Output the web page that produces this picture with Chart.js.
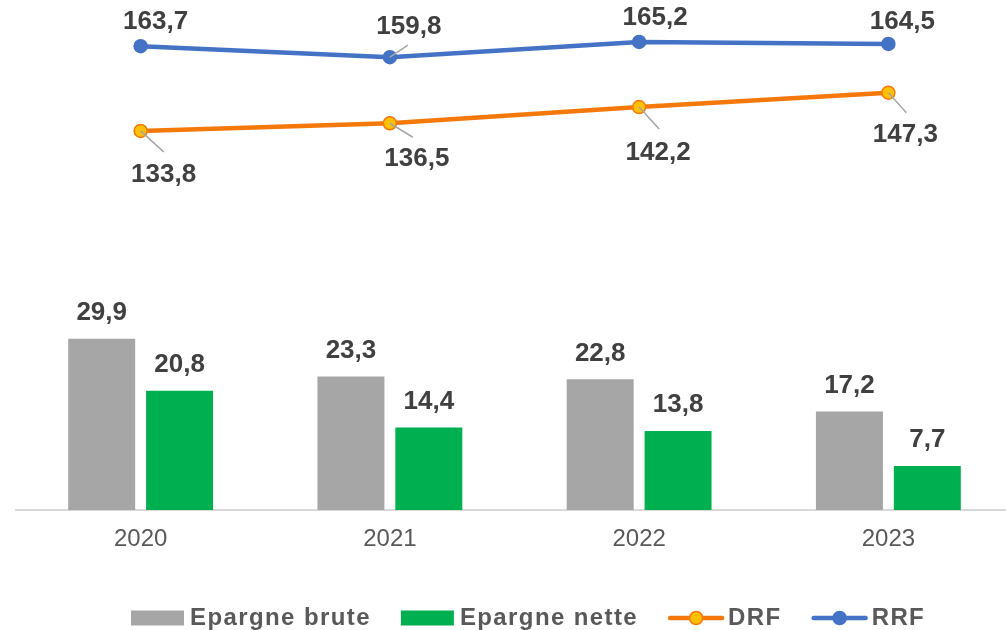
<!DOCTYPE html>
<html>
<head>
<meta charset="utf-8">
<script src="https://cdn.jsdelivr.net/npm/chart.js@4/dist/chart.umd.min.js"></script>
<style>
  html, body { margin: 0; padding: 0; overflow: hidden; background: #fff; }
  #wrap { width: 1014px; height: 630px; }
</style>
</head>
<body>
<div id="wrap"><canvas id="chart" width="1014" height="630" style="width:1014px;height:630px"></canvas></div>
<script>
const years = ['2020', '2021', '2022', '2023'];
const epargneBrute = [29.9, 23.3, 22.8, 17.2];
const epargneNette = [20.8, 14.4, 13.8, 7.7];
const drf = [133.8, 136.5, 142.2, 147.3];
const rrf = [163.7, 159.8, 165.2, 164.5];

const FONT = '"Liberation Sans", Arial, sans-serif';
const LABEL_COLOR = '#404040';

// label placement for the line series (offset from the point, leader end or null)
const lineLabelLayout = {
  DRF: [
    { dx: 23, dy: 44, lead: [23, 21] },
    { dx: 27, dy: 36, lead: [23, 14] },
    { dx: 19, dy: 46, lead: [20, 22] },
    { dx: 17, dy: 42, lead: [18, 20] }
  ],
  RRF: [
    { dx: 15, dy: -24, lead: null },
    { dx: 19, dy: -30, lead: [18, -12] },
    { dx: 16, dy: -24, lead: null },
    { dx: 14, dy: -22, lead: null }
  ]
};

const fmt = v => v.toFixed(1).replace('.', ',');

const valueLabels = {
  id: 'valueLabels',
  afterDatasetsDraw(chart) {
    const ctx = chart.ctx;
    ctx.save();
    ctx.font = 'bold 26px ' + FONT;
    ctx.fillStyle = LABEL_COLOR;
    ctx.textAlign = 'center';
    ctx.textBaseline = 'middle';
    chart.data.datasets.forEach((ds, i) => {
      const meta = chart.getDatasetMeta(i);
      meta.data.forEach((el, j) => {
        const v = ds.data[j];
        if (ds.type === 'bar') {
          ctx.fillText(fmt(v), el.x, el.y - 26);
        } else {
          const lay = lineLabelLayout[ds.label][j];
          if (lay.lead) {
            ctx.beginPath();
            ctx.strokeStyle = '#a6a6a6';
            ctx.lineWidth = 1.5;
            ctx.moveTo(el.x, el.y);
            ctx.lineTo(el.x + lay.lead[0], el.y + lay.lead[1]);
            ctx.stroke();
          }
          ctx.fillText(fmt(v), el.x + lay.dx, el.y + lay.dy);
        }
      });
    });
    ctx.restore();
  }
};

const customLegend = {
  id: 'customLegend',
  afterDraw(chart) {
    const ctx = chart.ctx;
    const y = 618;
    let x = 131;
    ctx.save();
    ctx.font = 'bold 24px ' + FONT;
    ctx.letterSpacing = '1.4px';
    ctx.textBaseline = 'middle';
    ctx.textAlign = 'left';
    chart.data.datasets.forEach(ds => {
      if (ds.type === 'bar') {
        ctx.fillStyle = ds.backgroundColor;
        ctx.fillRect(x, y - 7.5, 53, 15);
        x += 53 + 6;
      } else {
        ctx.beginPath();
        ctx.strokeStyle = ds.borderColor;
        ctx.lineWidth = 4.5;
        ctx.lineCap = 'round';
        ctx.moveTo(x + 2, y);
        ctx.lineTo(x + 54, y);
        ctx.stroke();
        ctx.beginPath();
        ctx.arc(x + 28, y, 6.5, 0, Math.PI * 2);
        ctx.fillStyle = ds.pointBackgroundColor;
        ctx.fill();
        ctx.lineWidth = ds.pointBorderWidth;
        ctx.strokeStyle = ds.pointBorderColor;
        ctx.stroke();
        x += 56 + 4;
      }
      ctx.fillStyle = '#595959';
      ctx.fillText(ds.label, x, y);
      x += ctx.measureText(ds.label).width + 30;
    });
    ctx.restore();
  }
};

new Chart(document.getElementById('chart'), {
  data: {
    labels: years,
    datasets: [
      {
        type: 'bar', label: 'Epargne brute', data: epargneBrute, yAxisID: 'y',
        backgroundColor: '#a6a6a6', categoryPercentage: 0.625, barPercentage: 0.86, order: 2
      },
      {
        type: 'bar', label: 'Epargne nette', data: epargneNette, yAxisID: 'y',
        backgroundColor: '#00b050', categoryPercentage: 0.625, barPercentage: 0.86, order: 2
      },
      {
        type: 'line', label: 'DRF', data: drf, yAxisID: 'y1',
        borderColor: '#f5780a', borderWidth: 4.5, pointRadius: 6.5,
        pointBackgroundColor: '#ffc000', pointBorderColor: '#f5780a', pointBorderWidth: 1.5,
        tension: 0, clip: false, order: 1
      },
      {
        type: 'line', label: 'RRF', data: rrf, yAxisID: 'y1',
        borderColor: '#4472c4', borderWidth: 4.5, pointRadius: 6.5,
        pointBackgroundColor: '#4472c4', pointBorderColor: '#4472c4', pointBorderWidth: 1.5,
        tension: 0, clip: false, order: 0
      }
    ]
  },
  options: {
    responsive: false,
    animation: false,
    devicePixelRatio: 1,
    layout: { autoPadding: false, padding: { left: 16, right: 1, top: 0, bottom: 0 } },
    plugins: { legend: { display: false }, tooltip: { enabled: false } },
    scales: {
      x: {
        grid: { display: false, drawTicks: false },
        border: { color: '#d9d9d9', width: 2 },
        ticks: { color: '#595959', font: { family: FONT, size: 24 }, padding: 15 },
        afterFit(scale) { scale.height = 120; }
      },
      y: { display: false, min: 0, max: 89 },
      y1: { display: false, min: 0, max: 180 }
    }
  },
  plugins: [valueLabels, customLegend]
});
</script>
</body>
</html>
